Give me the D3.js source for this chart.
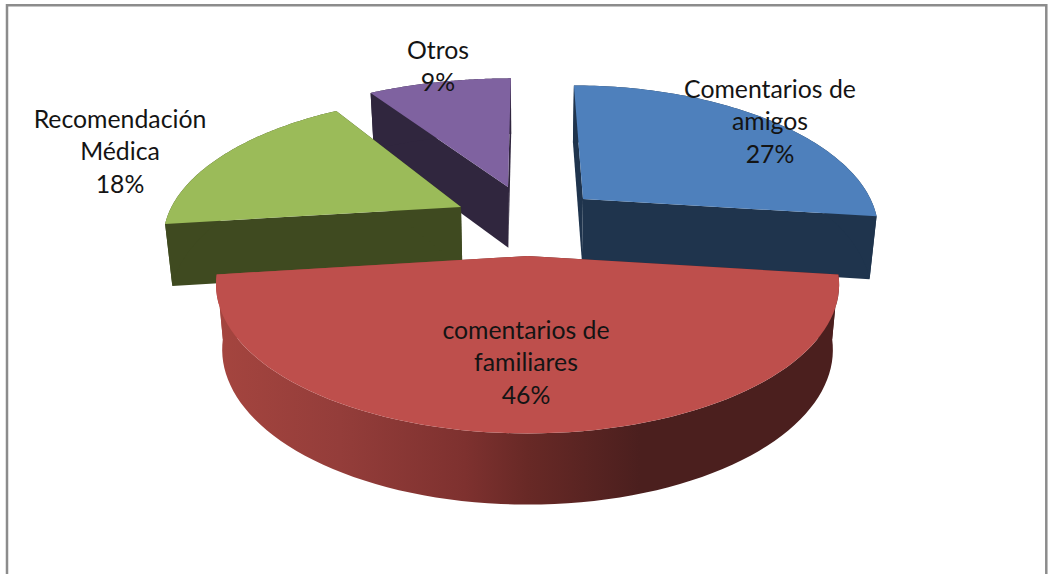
<!DOCTYPE html>
<html><head><meta charset="utf-8">
<script src="https://cdn.jsdelivr.net/npm/d3@7/dist/d3.min.js"></script>
<style>html,body{margin:0;padding:0;background:#fff;overflow:hidden}svg{display:block}</style>
</head><body><svg id="c" width="1049" height="574"></svg>
<script>
// Data
const categories = ["Comentarios de amigos","comentarios de familiares","Recomendación Médica","Otros"];
const labelLines = [["Comentarios de","amigos"],["comentarios de","familiares"],["Recomendación","Médica"],["Otros"]];
const values = [27,46,18,9];
// Styles
const topColors = ["#4E80BC","#BE4F4C","#9BBB59","#7F62A0"];
const wallColors = ["#1F344D","url(#redWall)","#3F4A20","#30263E"];
const redStops = [[0,"#A5453F"],[0.2,"#943D3A"],[0.4,"#7E312F"],[0.5,"#682926"],[0.68,"#4B1F1E"],[1,"#4B1F1E"]];
const labelCentres = [[770,89.5],[526,330.5],[120,119.5],[438,50.5]];
// Layout of the projection (per-slice explosion offsets and depth scale)
const explodeX=[57,1.5,-65,-18], explodeY=[-21,36,-13,-33];
const sliceScaleX=[0.968,1.03,0.975,1.02], sliceScaleY=[0.972,1.034,0.95,0.93];
const cx=526, cy=220, R=297, A=139, persp=0.19, H=63, converge=0.98;
const lineH=32.7;

const svg=d3.select("#c");
const grad=svg.append("defs").append("linearGradient").attr("id","redWall")
  .attr("gradientUnits","userSpaceOnUse").attr("x1",215).attr("x2",840).attr("y1",0).attr("y2",0);
grad.selectAll("stop").data(redStops).join("stop").attr("offset",d=>d[0]).attr("stop-color",d=>d[1]);

svg.append("path").attr("d","M7,574V5.3H1046.3V574").attr("fill","none").attr("stroke","#8C8C8C").attr("stroke-width",2.5);

const pie=d3.pie().sort(null).value(d=>d).startAngle(0).endAngle(2*Math.PI);
const arcs=pie(values).map((a,i)=>({i,start:a.startAngle,end:a.endAngle,ax:explodeX[i],ay:explodeY[i],sx:sliceScaleX[i],sy:sliceScaleY[i]}));
function upper(sl,th,r){
  const v=-Math.cos(th)*r, k=1/(1-persp*v);
  return [cx+(sl.ax+R*Math.sin(th)*r*sl.sx)*k, cy+sl.ay+A*v*k*sl.sy];
}
function lower(sl,th,r){
  const v=-Math.cos(th)*r, k=1/(1-persp*v), p=upper(sl,th,r);
  return [cx+(p[0]-cx)*converge, p[1]+H*Math.sqrt(k*sl.sy)];
}
const line=d3.line();
const sample=(sl)=>d3.range(0,81).map(j=>sl.start+(sl.end-sl.start)*j/80);
const order=arcs.slice().sort((a,b)=>a.ay-b.ay);
const g=svg.append("g");
order.forEach(sl=>{
  const ths=sample(sl), gs=g.append("g");
  const wall=wallColors[sl.i];
  [sl.start,sl.end].forEach(th=>{
    gs.append("path").attr("fill",wall).attr("d",line([upper(sl,th,0),upper(sl,th,1),lower(sl,th,1),lower(sl,th,0)])+"Z");
  });
  gs.append("path").attr("fill",wall)
    .attr("d",line(ths.map(t=>upper(sl,t,1)).concat(ths.slice().reverse().map(t=>lower(sl,t,1))))+"Z");
  gs.append("path").attr("fill",topColors[sl.i])
    .attr("d",line([upper(sl,0,0)].concat(ths.map(t=>upper(sl,t,1))))+"Z");
});
const lab=svg.append("g").attr("font-family","Lato, Carlito, sans-serif").attr("font-size",24.8).attr("fill","#141414").attr("text-anchor","middle");
arcs.forEach(sl=>{
  const lines=labelLines[sl.i].concat([values[sl.i]+"%"]);
  const [x,y]=labelCentres[sl.i];
  lab.selectAll(null).data(lines).join("text").attr("x",x).attr("y",(d,j)=>y+j*lineH+8).text(d=>d);
});
</script></body></html>
